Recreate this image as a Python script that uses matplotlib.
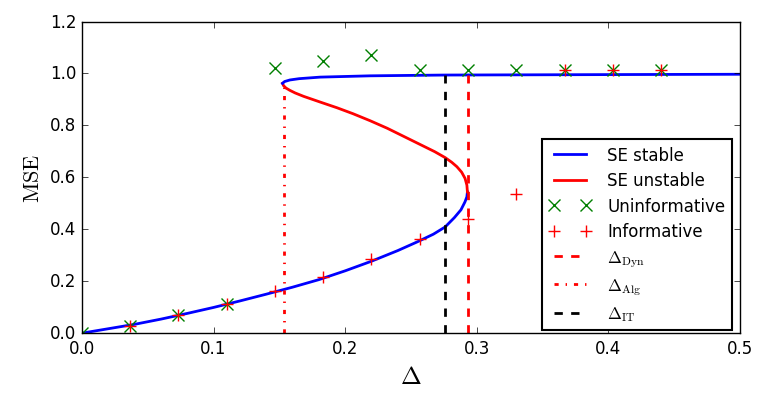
import matplotlib
matplotlib.use("Agg")
import matplotlib.pyplot as plt

plt.style.use("classic")
plt.rcParams["mathtext.fontset"] = "cm"
plt.rcParams["figure.facecolor"] = "white"
plt.rcParams["savefig.facecolor"] = "white"

# SE fixed points as (delta, mse) pairs
stable_low_delta = [0.000, 0.020, 0.040, 0.060, 0.080, 0.100, 0.120, 0.140, 0.160, 0.180,
                    0.200, 0.220, 0.240, 0.255, 0.267, 0.276, 0.283, 0.288, 0.291, 0.2925, 0.2929]
stable_low_mse = [0.000, 0.017, 0.034, 0.054, 0.076, 0.099, 0.124, 0.150, 0.177, 0.206,
                  0.240, 0.277, 0.318, 0.352, 0.381, 0.409, 0.445, 0.475, 0.505, 0.525, 0.544]

unstable_delta = [0.2929, 0.2925, 0.2911, 0.2885, 0.2849, 0.2810, 0.2760, 0.2680, 0.2596, 0.2520,
                  0.2444, 0.2320, 0.2190, 0.2060, 0.1938, 0.1810, 0.1684, 0.1620, 0.1580, 0.1550,
                  0.1532, 0.1524]
unstable_mse = [0.544, 0.570, 0.596, 0.620, 0.641, 0.658, 0.676, 0.699, 0.720, 0.739,
                0.758, 0.789, 0.818, 0.845, 0.868, 0.890, 0.912, 0.925, 0.935, 0.944,
                0.953, 0.962]

stable_high_delta = [0.1524, 0.1540, 0.1580, 0.1650, 0.1810, 0.2190, 0.2760, 0.3500, 0.4200, 0.5000]
stable_high_mse = [0.962, 0.969, 0.975, 0.980, 0.986, 0.991, 0.994, 0.995, 0.996, 0.997]

# AMP runs
uninf_delta = [0.0, 0.0367, 0.0733, 0.11, 0.1467, 0.1833, 0.22, 0.2567, 0.2933, 0.33, 0.3667, 0.4033, 0.44]
uninf_mse = [0.0, 0.029, 0.071, 0.113, 1.023, 1.049, 1.07, 1.014, 1.014, 1.014, 1.014, 1.014, 1.014]

inf_delta = [0.0367, 0.0733, 0.11, 0.1467, 0.1833, 0.22, 0.2567, 0.2933, 0.33, 0.3667, 0.4033, 0.44]
inf_mse = [0.029, 0.071, 0.113, 0.161, 0.216, 0.284, 0.361, 0.441, 0.534, 1.012, 1.012, 1.012]

# thresholds
delta_dyn = 0.2933
delta_alg = 0.1535
delta_it = 0.276
top_dyn = 0.995
top_alg = 0.960
top_it = 0.995

fig = plt.figure(figsize=(7.66, 4.10), dpi=100)
ax = fig.add_axes([0.107, 0.185, 0.859, 0.760])

ax.plot(stable_low_delta, stable_low_mse, color="b", lw=2, label="SE stable")
ax.plot(unstable_delta, unstable_mse, color="r", lw=2, label="SE unstable")
ax.plot(stable_high_delta, stable_high_mse, color="b", lw=2)
ax.plot(uninf_delta, uninf_mse, "x", color="g", ms=9, mew=1, label="Uninformative")
ax.plot(inf_delta, inf_mse, "+", color="r", ms=9, mew=1, label="Informative")
ax.plot([delta_dyn, delta_dyn], [0, top_dyn], "--", color="r", lw=2, label=r"$\Delta_{\rm Dyn}$")
ax.plot([delta_alg, delta_alg], [0, top_alg], "-.", color="r", lw=2, label=r"$\Delta_{\rm Alg}$")
ax.plot([delta_it, delta_it], [0, top_it], "--", color="k", lw=2, label=r"$\Delta_{\rm IT}$")

ax.set_xlim(0, 0.5)
ax.set_ylim(0, 1.2)
ax.set_xticks([0.0, 0.1, 0.2, 0.3, 0.4, 0.5])
ax.set_yticks([0.0, 0.2, 0.4, 0.6, 0.8, 1.0, 1.2])
ax.tick_params(labelsize=12)
ax.set_xlabel(r"$\Delta$", fontsize=18)
ax.set_ylabel(r"$\mathrm{MSE}$", fontsize=16)

leg = ax.legend(loc="lower right", bbox_to_anchor=(0.988, 0.01), borderaxespad=0,
                numpoints=2, fontsize=12, handlelength=2.5, handletextpad=1.0,
                labelspacing=0.45)
leg.get_frame().set_linewidth(1.5)

fig.savefig("out.png", dpi=100)
